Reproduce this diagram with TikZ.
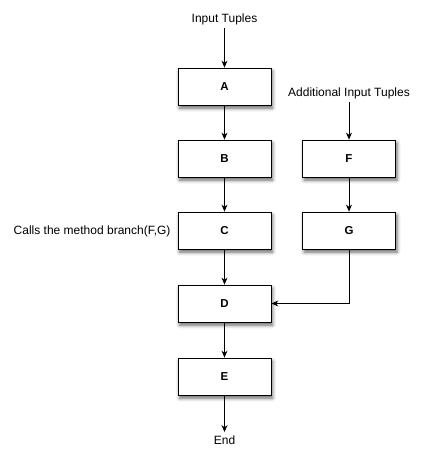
\documentclass[tikz,border=0pt]{standalone}
\usepackage{fontspec}
\setmainfont{Liberation Sans}
\usetikzlibrary{arrows.meta,shadows.blur}
\begin{document}
\begin{tikzpicture}[x=1pt,y=-1pt,>={Stealth[length=7pt,width=6pt]},
	stage/.style={draw,thick,fill=white,minimum width=93pt,minimum height=37pt,
		font=\fontsize{11.5}{13}\selectfont\bfseries,
		blur shadow={shadow xshift=1.5pt,shadow yshift=-3pt,shadow blur radius=3.5pt,shadow opacity=60}},
	caption/.style={font=\fontsize{12}{14}\selectfont},
	flow/.style={->,line width=0.8pt}]
	\useasboundingbox (0,0) rectangle (424,463);
	% Main chain
	\node[stage] (A) at (224.5,86.5) {A};
	\node[stage] (B) at (224.5,158.5) {B};
	\node[stage] (C) at (224.5,230.5) {C};
	\node[stage] (D) at (224.5,303.5) {D};
	\node[stage] (E) at (224.5,376.5) {E};
	% Side branch
	\node[stage] (F) at (349,158.5) {F};
	\node[stage] (G) at (349,230.5) {G};
	% Labels
	\node[caption] (in) at (224.5,19) {Input Tuples};
	\node[caption] (addin) at (349,93) {Additional Input Tuples};
	\node[caption,anchor=east] (call) at (174,231) {Calls the method branch(F,G)};
	\node[caption] (end) at (224.5,440) {End};
	% Connectors
	\draw[flow] (in) -- (A);
	\draw[flow] (A) -- (B);
	\draw[flow] (B) -- (C);
	\draw[flow] (C) -- (D);
	\draw[flow] (D) -- (E);
	\draw[flow] (E) -- (end);
	\draw[flow] (addin) -- (F);
	\draw[flow] (F) -- (G);
	\draw[flow] (G.south) |- (D.east);
\end{tikzpicture}
\end{document}
